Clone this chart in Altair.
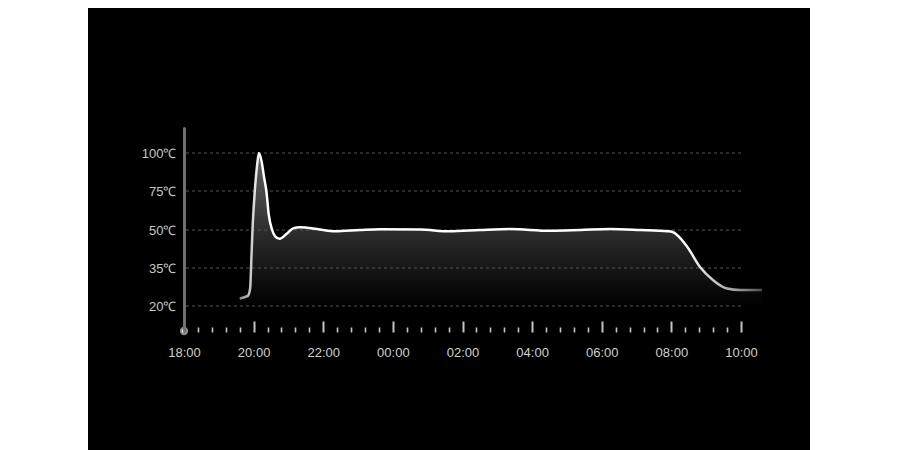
import altair as alt
import pandas as pd

# minutes after 18:00
minutes = [96, 110, 114, 116, 118, 122, 126, 129, 134, 138, 142, 146, 152, 157, 165, 177,
           188, 200, 234, 260, 303, 338, 407, 458, 510, 562, 631, 683, 734, 786, 834, 841,
           867, 889, 912, 936, 958, 996]
temps = [23, 24, 27, 38, 50, 75, 92, 100, 94, 84, 75, 60, 50, 47.5, 46.5, 48.5,
         51, 51.8, 50.3, 49.5, 50, 50.5, 50.3, 49.5, 50, 50.6, 49.7, 50, 50.6, 50, 49.5, 49.3,
         43.5, 35.5, 30.2, 26.9, 26.3, 26.3]

y_levels = [20, 35, 50, 75, 100]
tick_minutes = list(range(0, 961, 24))

df = pd.DataFrame({"m": minutes, "t": temps})
grid_df = pd.DataFrame({"g": y_levels})

W, H = 557, 203
x_scale = alt.Scale(domain=[0, 960], nice=False, zero=False)
y_scale = alt.Scale(type="linear", domain=[10, 20, 35, 50, 75, 100, 116],
                    range=[203, 178, 140, 102, 63, 25, 0], nice=False, zero=False)

x_axis = alt.Axis(
    values=tick_minutes, tickCount=len(tick_minutes) + 5, orient="bottom", offset=-10,
    domain=False, grid=False,
    tickSize=11, tickColor="#c4c4c4",
    tickWidth={"condition": {"test": "datum.value % 120 === 0", "value": 2}, "value": 1.6},
    tickDash={"condition": {"test": "datum.value % 120 === 0", "value": [20, 0]}, "value": [0, 6, 5, 20]},
    labelExpr="datum.value % 120 === 0 ? format((18 + datum.value/60) % 24, '02d') + ':00' : ''",
    labelOverlap=False, labelFlush=False, labelColor="#d0d0d0", labelFontSize=13,
    labelFont="Liberation Sans", labelPadding=14, title=None, zindex=1,
)
y_axis = alt.Axis(
    values=y_levels, tickCount=10, orient="left", ticks=False, domain=True, domainColor="#707070",
    domainWidth=3, domainCap="round", grid=False,
    labelExpr="datum.value + '℃'", labelColor="#c8c8c8", labelFontSize=13,
    labelFont="Liberation Sans", labelPadding=8, title=None, zindex=1,
)

panel = alt.Chart(pd.DataFrame({"a": [0]})).mark_rect(color="black").encode(
    x=alt.value(-96), x2=alt.value(626), y=alt.value(-120), y2=alt.value(322)
)

base = alt.Chart(df)
area = base.mark_area(
    interpolate="monotone",
    fill=alt.Gradient(gradient="linear", x1=0, x2=0, y1=0, y2=1, stops=[
        alt.GradientStop(offset=0, color="#5e5e5e"),
        alt.GradientStop(offset=0.3, color="#454545"),
        alt.GradientStop(offset=0.52, color="#2c2c2c"),
        alt.GradientStop(offset=0.8, color="#121212"),
        alt.GradientStop(offset=1, color="#000000"),
    ]),
).encode(
    x=alt.X("m:Q", scale=x_scale, axis=x_axis),
    y=alt.Y("t:Q", scale=y_scale, axis=y_axis),
    y2=alt.datum(20),
)
grid = alt.Chart(grid_df).mark_rule(color="#555555", strokeDash=[3, 3], strokeWidth=1).encode(
    y=alt.Y("g:Q", scale=y_scale, axis=y_axis),
    x=alt.value(2), x2=alt.value("width"),
)
line = base.mark_line(
    interpolate="monotone", strokeWidth=2.5,
    stroke=alt.Gradient(gradient="linear", x1=0, x2=1, y1=0, y2=0, stops=[
        alt.GradientStop(offset=0, color="#8a8a8a"),
        alt.GradientStop(offset=0.04, color="#ffffff"),
        alt.GradientStop(offset=0.85, color="#ffffff"),
        alt.GradientStop(offset=0.95, color="#a0a0a0"),
        alt.GradientStop(offset=1, color="#505050"),
    ]),
).encode(
    x=alt.X("m:Q", scale=x_scale, axis=x_axis),
    y=alt.Y("t:Q", scale=y_scale, axis=y_axis),
)
dot = alt.Chart(pd.DataFrame({"a": [0]})).mark_point(
    filled=True, fill="white", stroke="#8a8a8a", strokeWidth=2, size=40, opacity=1, shape="circle"
).encode(x=alt.value(0), y=alt.value("height"))

chart = alt.layer(panel, area, grid, line, dot).properties(
    width=W, height=H,
    autosize=alt.AutoSizeParams(type="none"),
    padding={"left": 176, "top": 120, "right": 151, "bottom": 119},
).configure(background="white").configure_view(stroke=None)

chart.save("out.html", embed_options={"renderer": "svg", "actions": False})
